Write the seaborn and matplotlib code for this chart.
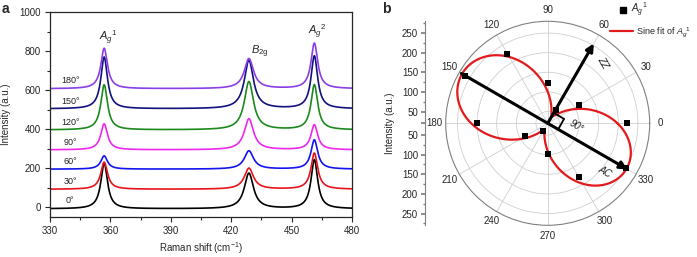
import numpy as np
import pandas as pd
import matplotlib
matplotlib.use("Agg")
import matplotlib.pyplot as plt
from matplotlib.lines import Line2D
import seaborn as sns

# ---------------- data ----------------
# panel a: Raman spectra, one per polarisation angle
angles = ["0°", "30°", "60°", "90°", "120°", "150°", "180°"]
colors = ["#000000", "#e8141c", "#1414f0", "#ee28ee", "#1c8a1c", "#12127e", "#8a3ee6"]
baselines = [-8, 92, 195, 294, 396, 504, 607]
peak_centers = [356.9, 428.8, 461.3]          # Ag1, B2g, Ag2 (cm^-1)
peak_fwhm = [4.0, 5.5, 4.0]
ag1_tops = [226, 231, 263, 427, 627, 769, 814]
b2g_tops = [174, 200, 289, 453, 643, 752, 761]
ag2_tops = [243, 277, 345, 422, 627, 774, 840]

# panel b: Ag1 intensity vs angle
polar_angles = [0, 30, 60, 90, 120, 150, 180, 210, 240, 270, 300, 330]
ag1_intensity = [223, 111, 60, 122, 225, 262, 200, 86, 43, 98, 179, 250]
# sine fit parameters: r = offset + amp*cos^2(t - phase) + skew*cos(t - phase)
fit_offset, fit_amp, fit_skew, fit_phase = 40, 222, 10, 150

# ---------------- style ----------------
sns.set_theme(style="ticks")
plt.rcParams["font.family"] = ["Liberation Sans", "DejaVu Sans"]
plt.rcParams["mathtext.fontset"] = "custom"
plt.rcParams["mathtext.rm"] = "Liberation Sans"
plt.rcParams["mathtext.it"] = "Liberation Sans:italic"
plt.rcParams["font.size"] = 7

fig = plt.figure(figsize=(6.97, 2.57), dpi=100)
W, H = 697, 257

# ---------------- panel a ----------------
ax = fig.add_axes([50 / W, 40 / H, 302 / W, 205 / H])

shift = np.linspace(330, 480, 1501)
rows = []
tops = [ag1_tops, b2g_tops, ag2_tops]
for i, ang in enumerate(angles):
    y = np.full_like(shift, baselines[i], dtype=float)
    for k in range(3):
        amp = tops[k][i] - baselines[i]
        hw = peak_fwhm[k] / 2
        y += amp / (1 + ((shift - peak_centers[k]) / hw) ** 2)
    rows.append(pd.DataFrame({"shift": shift, "intensity": y, "angle": ang}))
spectra = pd.concat(rows, ignore_index=True)

sns.lineplot(data=spectra, x="shift", y="intensity", hue="angle", hue_order=angles,
             palette=colors, lw=1.2, legend=False, sort=False, estimator=None, ax=ax)

for i, ang in enumerate(angles):
    ax.text(340, baselines[i] + 40, ang, ha="center", va="center", fontsize=6.5, color="#222222")

ax.text(359, 867, r"$A_g{}^{1}$", ha="center", va="center", fontsize=8)
ax.text(434, 798, r"$B_\mathregular{2g}$", ha="center", va="center", fontsize=8)
ax.text(462.6, 897, r"$A_g{}^{2}$", ha="center", va="center", fontsize=8)

ax.set_xlim(330, 480)
ax.set_ylim(-50, 1000)
ax.set_xticks(range(330, 481, 30))
ax.set_xticks(range(345, 480, 30), minor=True)
ax.set_yticks(range(0, 1001, 200))
ax.set_yticks(range(100, 1000, 200), minor=True)
ax.tick_params(which="major", direction="out", length=3.5, width=0.8, labelsize=7, pad=3)
ax.tick_params(which="minor", direction="out", length=2, width=0.8)
for s in ax.spines.values():
    s.set_linewidth(0.9)
ax.set_xlabel("Raman shift (cm$^{-1}$)", fontsize=7, labelpad=3)
ax.set_ylabel("Intensity (a.u.)", fontsize=7, labelpad=6)

# ---------------- panel b ----------------
rmin, rmax = 20, 280
pax = fig.add_axes([445.7 / W, 31.7 / H, 204 / W, 204 / H], projection="polar")
theta = np.deg2rad(polar_angles)
sns.scatterplot(x=theta, y=ag1_intensity, marker="s", color="black", s=18,
                linewidth=0, zorder=5, ax=pax)

tf = np.linspace(0, 2 * np.pi, 721)
d = tf - np.deg2rad(fit_phase)
r_fit = fit_offset + fit_amp * np.cos(d) ** 2 + fit_skew * np.cos(d)
sns.lineplot(x=tf, y=r_fit, color="#e31a1c", lw=1.6, sort=False, estimator=None, ax=pax)

pax.set_rlim(rmin, rmax)
pax.set_rgrids([50, 100, 150, 200, 250], labels=[])
pax.set_thetagrids(range(0, 360, 30), labels=[str(a) for a in range(0, 360, 30)], fontsize=7)
pax.tick_params(axis="x", pad=-5)
pax.grid(color="#cfcfcf", lw=0.6)
pax.spines["polar"].set_color("#808080")
pax.spines["polar"].set_linewidth(0.8)
pax.set_xlabel("")
pax.set_ylabel("")

arrow = dict(arrowstyle="-|>", lw=2.2, color="black", mutation_scale=11, shrinkA=0, shrinkB=0)
pax.annotate("", xy=(np.deg2rad(330), 255), xytext=(np.deg2rad(150), 274), arrowprops=arrow, zorder=6)
pax.annotate("", xy=(np.deg2rad(60), 255), xytext=(np.deg2rad(60), rmin), arrowprops=arrow, zorder=6)
sq = dict(arrowstyle="-", lw=1.3, color="black", shrinkA=0, shrinkB=0)
pax.annotate("", xy=(np.deg2rad(15), 63), xytext=(np.deg2rad(60), 51), arrowprops=sq)
pax.annotate("", xy=(np.deg2rad(15), 63), xytext=(np.deg2rad(330), 51), arrowprops=sq)
pax.text(np.deg2rad(355), 94, "90°", rotation=-30, style="italic", ha="center", va="center", fontsize=7)
pax.text(np.deg2rad(47.5), 228, "ZZ", rotation=-60, style="italic", ha="center", va="center", fontsize=7)
pax.text(np.deg2rad(320), 211, "AC", rotation=-30, style="italic", ha="center", va="center", fontsize=7)

# radial scale drawn as a vertical axis on the left
rax = fig.add_axes([425 / W, 31.7 / H, 0.001, 204 / H])
span = rmax - rmin
rax.set_ylim(-span, span)
vals = [50, 100, 150, 200, 250]
ticks = [v - rmin for v in vals][::-1] + [0] + [-(v - rmin) for v in vals]
labels = [str(v) for v in vals][::-1] + [""] + [str(v) for v in vals]
rax.set_yticks(ticks)
rax.set_yticklabels(labels)
minor = [v - rmin for v in (75, 125, 175, 225, 275)]
rax.set_yticks(minor + [-m for m in minor], minor=True)
rax.set_xticks([])
for k in ("top", "right", "bottom"):
    rax.spines[k].set_visible(False)
rax.spines["left"].set_color("#808080")
rax.spines["left"].set_linewidth(0.8)
rax.tick_params(axis="y", which="major", direction="out", length=3, color="#808080", labelsize=7, pad=2)
rax.tick_params(axis="y", which="minor", direction="out", length=1.5, color="#808080")
rax.patch.set_visible(False)
rax.set_ylabel("Intensity (a.u.)", fontsize=7, labelpad=5)

# legend: two rows with different handle widths, as in the reference
fig.legend([Line2D([], [], marker="s", color="black", ls="none", markersize=4.5)],
           [r"$A_g{}^{1}$"], loc="upper left", bbox_to_anchor=(619 / W, 1 - 1 / H),
           bbox_transform=fig.transFigure, frameon=False, fontsize=7,
           handlelength=0.8, handletextpad=0.4, borderpad=0, borderaxespad=0)
fig.legend([Line2D([], [], color="#e31a1c", lw=1.6)],
           [r"Sine fit of $A_g{}^{1}$"], loc="upper left", bbox_to_anchor=(610 / W, 1 - 25 / H),
           bbox_transform=fig.transFigure, frameon=False, fontsize=6.5,
           handlelength=2.5, handletextpad=0.4, borderpad=0, borderaxespad=0)

fig.text(2 / W, 1 - 2 / H, "a", weight="bold", fontsize=10, va="top", ha="left")
fig.text(382 / W, 1 - 2 / H, "b", weight="bold", fontsize=10, va="top", ha="left")

fig.savefig("out.png", dpi=100)
